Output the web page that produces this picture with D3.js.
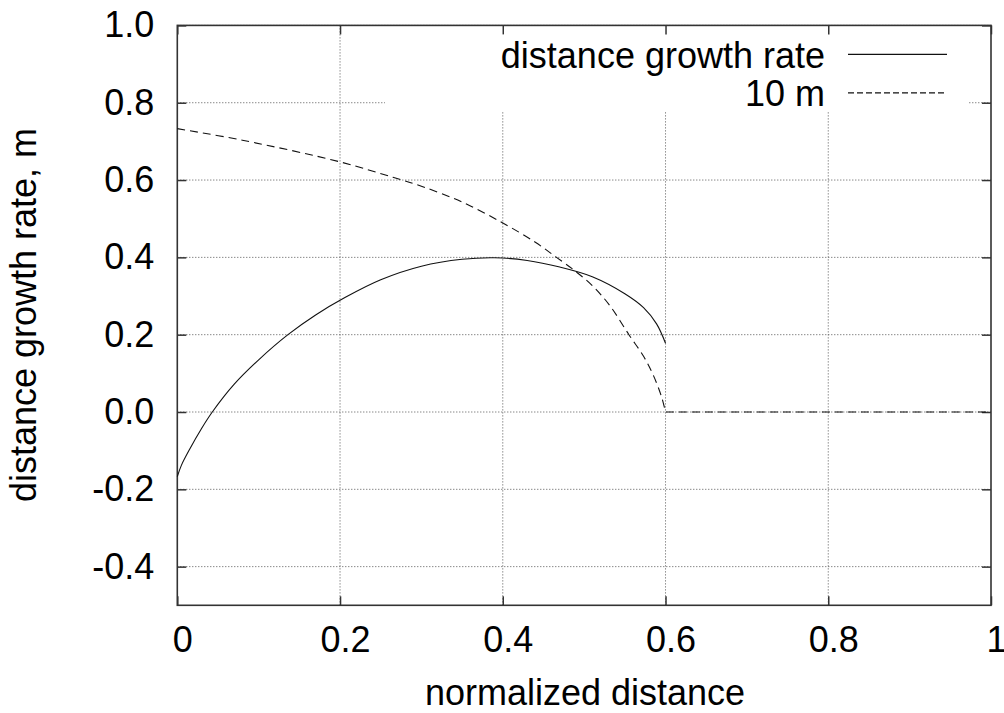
<!DOCTYPE html>
<html>
<head>
<meta charset="utf-8">
<script src="https://cdn.jsdelivr.net/npm/d3@7"></script>
<style>
  html, body { margin: 0; padding: 0; background: #fff; }
  svg { display: block; font-family: "Liberation Sans", Arial, Helvetica, sans-serif; }
</style>
</head>
<body>
<svg id="chart" width="1004" height="713"></svg>
<script>
// Axis ticks
const xTicks = [0, 0.2, 0.4, 0.6, 0.8, 1];
const xTickLabels = ["0", "0.2", "0.4", "0.6", "0.8", "1"];
const yTicks = [-0.4, -0.2, 0.0, 0.2, 0.4, 0.6, 0.8, 1.0];
const yTickLabels = ["-0.4", "-0.2", "0.0", "0.2", "0.4", "0.6", "0.8", "1.0"];

// Series: distance growth rate
const growthX = [0, 0.005, 0.015, 0.03, 0.043, 0.07, 0.1, 0.136, 0.17, 0.206, 0.25, 0.3, 0.35, 0.39, 0.43, 0.47, 0.51, 0.55, 0.573, 0.589, 0.6];
const growthY = [-0.167, -0.138, -0.097, -0.042, 0, 0.072, 0.135, 0.2, 0.251, 0.296, 0.342, 0.377, 0.395, 0.399, 0.392, 0.375, 0.350, 0.306, 0.270, 0.228, 0.178];

// Series: 10 m
const tenX = [0, 0.08, 0.2, 0.265, 0.3, 0.35, 0.4, 0.44, 0.466, 0.49, 0.511, 0.532, 0.555, 0.573, 0.585, 0.595, 0.6, 0.8, 1.0];
const tenY = [0.733, 0.703, 0.647, 0.607, 0.584, 0.543, 0.489, 0.439, 0.400, 0.363, 0.325, 0.274, 0.200, 0.144, 0.095, 0.040, 0, 0, 0];

const seriesNames = ["distance growth rate", "10 m"];

const xTitle = "normalized distance";
const yTitle = "distance growth rate, m";

const svg = d3.select("#chart");
const plotL = 177.3, plotR = 991, plotT = 25.4, plotB = 605.3;

const x = d3.scaleLinear().domain([0, 1]).range([plotL, plotR]);
const y = d3.scaleLinear().domain([-0.5, 1.0]).range([plotB, plotT]);

const FONT = 36;
const frameColor = "#333";

// Grid
const grid = svg.append("g").attr("stroke", "#555").attr("stroke-width", 1).attr("stroke-dasharray", "1,2");
grid.selectAll("line.gx").data(xTicks.filter(d => d > 0 && d < 1)).join("line")
  .attr("x1", d => x(d)).attr("x2", d => x(d)).attr("y1", plotT).attr("y2", plotB);
grid.selectAll("line.gy").data(yTicks).join("line")
  .attr("x1", plotL).attr("x2", plotR).attr("y1", d => y(d)).attr("y2", d => y(d));

// Key area sits over the grid
svg.append("rect").attr("x", 385).attr("y", plotT).attr("width", 968 - 385).attr("height", 112 - plotT).attr("fill", "#fff");

// Axes with inward ticks
const fmtX = d => xTickLabels[xTicks.indexOf(d)];
const fmtY = d => yTickLabels[yTicks.findIndex(v => Math.abs(v - d) < 1e-9)];

const axB = svg.append("g").attr("transform", `translate(0,${plotB})`)
  .call(d3.axisBottom(x).tickValues(xTicks).tickFormat(fmtX).tickSize(-9).tickPadding(21.6));
const axL = svg.append("g").attr("transform", `translate(${plotL},0)`)
  .call(d3.axisLeft(y).tickValues(yTicks).tickFormat(fmtY).tickSize(-9).tickPadding(23));
const axT = svg.append("g").attr("transform", `translate(0,${plotT})`)
  .call(d3.axisTop(x).tickValues(xTicks).tickFormat("").tickSize(-9));
const axR = svg.append("g").attr("transform", `translate(${plotR},0)`)
  .call(d3.axisRight(y).tickValues(yTicks).tickFormat("").tickSize(-9));

[axB, axL, axT, axR].forEach(g => {
  g.select(".domain").remove();
  g.selectAll(".tick line").attr("stroke", frameColor).attr("stroke-width", 1.5);
  g.selectAll("text").attr("font-size", FONT).attr("fill", "#000")
    .attr("font-family", "\"Liberation Sans\", Arial, Helvetica, sans-serif");
});
axB.selectAll(".tick text").attr("dx", 5);

// Frame
svg.append("rect").attr("x", plotL).attr("y", plotT).attr("width", plotR - plotL).attr("height", plotB - plotT)
  .attr("fill", "none").attr("stroke", frameColor).attr("stroke-width", 1.6);

// Curves (smooth through the points; the 10 m curve has a corner at its zero point)
const smooth = d3.line().x(d => x(d[0])).y(d => y(d[1])).curve(d3.curveCatmullRom.alpha(0.5));
const growth = growthX.map((v, i) => [v, growthY[i]]);
const ten = tenX.map((v, i) => [v, tenY[i]]);
const corner = tenY.indexOf(0);
const tenCurve = ten.slice(0, corner + 1);
const tenFlat = ten.slice(corner);

svg.append("path").datum(growth).attr("d", smooth)
  .attr("fill", "none").attr("stroke", "#111").attr("stroke-width", 1.1);
const tenPath = smooth(tenCurve) + d3.line().x(d => x(d[0])).y(d => y(d[1]))(tenFlat).replace(/^M/, "L");
svg.append("path").attr("d", tenPath)
  .attr("fill", "none").attr("stroke", "#111").attr("stroke-width", 1.1).attr("stroke-dasharray", "8,5");

// Key
const key = svg.append("g");
const keyRows = [
  { name: seriesNames[0], yLine: 54.4, baseline: 67.6, dash: null },
  { name: seriesNames[1], yLine: 92.9, baseline: 105.7, dash: "6,3" }
];
keyRows.forEach(r => {
  key.append("text").attr("x", 825).attr("y", r.baseline).attr("text-anchor", "end")
    .attr("font-size", FONT).attr("fill", "#000").text(r.name);
  key.append("line").attr("x1", 848).attr("x2", 947).attr("y1", r.yLine).attr("y2", r.yLine)
    .attr("stroke", "#111").attr("stroke-width", 1.1)
    .attr("stroke-dasharray", r.dash);
});

// Axis titles
svg.append("text").attr("x", 585).attr("y", 705).attr("text-anchor", "middle")
  .attr("font-size", FONT).attr("fill", "#000").text(xTitle);
svg.append("text").attr("transform", `translate(36,315) rotate(-90)`).attr("text-anchor", "middle")
  .attr("font-size", FONT).attr("fill", "#000").text(yTitle);
</script>
</body>
</html>
